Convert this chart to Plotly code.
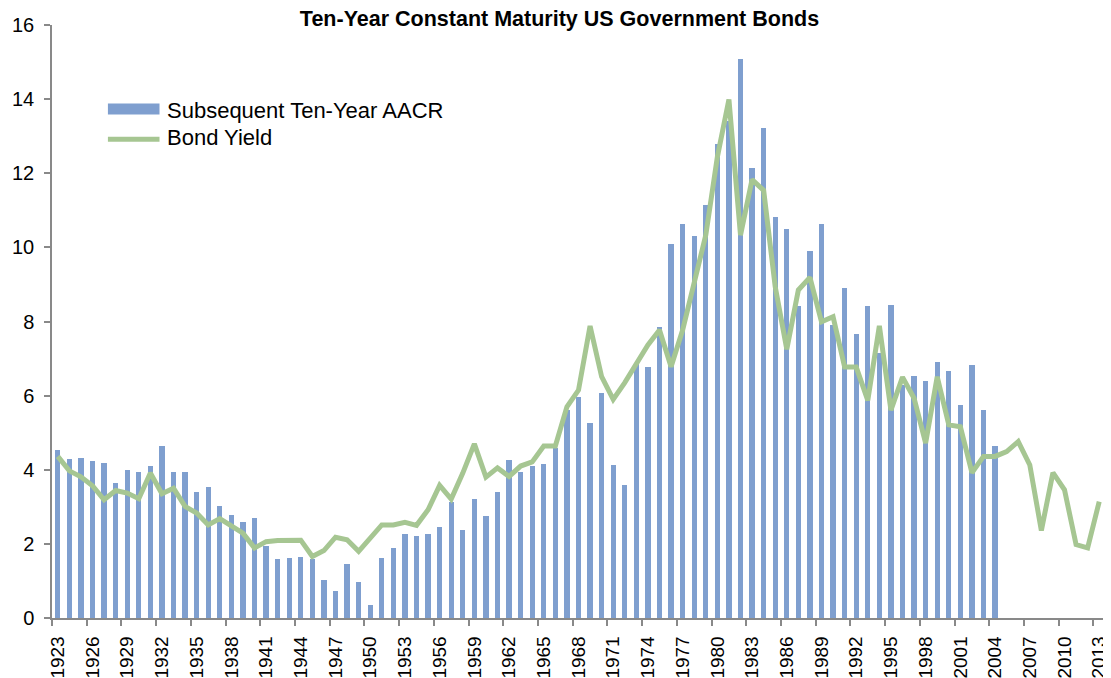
import plotly.graph_objects as go

years = list(range(1923, 2014))
aacr_years = list(range(1923, 2005))

aacr = [4.52, 4.28, 4.33, 4.24, 4.19, 3.64, 3.99, 3.94, 4.09, 4.64,
        3.93, 3.94, 3.39, 3.54, 3.03, 2.77, 2.60, 2.69, 1.93, 1.60,
        1.62, 1.65, 1.60, 1.03, 0.73, 1.45, 0.96, 0.36, 1.62, 1.89,
        2.27, 2.22, 2.27, 2.46, 3.14, 2.38, 3.22, 2.74, 3.39, 4.27,
        3.93, 4.10, 4.15, 4.58, 5.61, 5.97, 5.26, 6.08, 4.13, 3.59,
        6.85, 6.77, 7.84, 10.08, 10.63, 10.31, 11.15, 12.78, 13.40, 15.09,
        12.15, 13.22, 10.81, 10.50, 8.42, 9.90, 10.63, 7.90, 8.91, 7.65,
        8.41, 7.14, 8.45, 6.30, 6.53, 6.39, 6.91, 6.67, 5.74, 6.82,
        5.61, 4.63]

bond_yield = [4.36, 3.97, 3.81, 3.57, 3.19, 3.44, 3.37, 3.22, 3.91, 3.35,
              3.50, 3.01, 2.83, 2.51, 2.68, 2.47, 2.29, 1.89, 2.06, 2.09,
              2.10, 2.10, 1.66, 1.82, 2.18, 2.11, 1.80, 2.16, 2.51, 2.51,
              2.58, 2.50, 2.92, 3.58, 3.21, 3.91, 4.70, 3.80, 4.05, 3.82,
              4.10, 4.21, 4.64, 4.64, 5.70, 6.15, 7.88, 6.51, 5.90, 6.35,
              6.83, 7.37, 7.77, 6.78, 7.77, 9.03, 10.33, 12.44, 13.99, 10.33,
              11.83, 11.54, 8.94, 7.25, 8.85, 9.19, 7.99, 8.13, 6.77, 6.77,
              5.87, 7.88, 5.61, 6.50, 5.93, 4.72, 6.51, 5.21, 5.16, 3.92,
              4.36, 4.36, 4.49, 4.76, 4.13, 2.36, 3.92, 3.46, 1.98, 1.89,
              3.14]

tick_years = list(range(1923, 2014, 3))
tick_labels = [str(y) for y in tick_years]
y_ticks = list(range(0, 17, 2))

BAR_COLOR = "#7F9FCF"
LINE_COLOR = "#A6C692"
AXIS_COLOR = "#898989"
FONT = "Liberation Sans, Arial, sans-serif"

# The page body adds an 8px margin, so the figure is sized to fit the window.
W, H = 1103, 670

fig = go.Figure()
fig.add_trace(go.Bar(x=aacr_years, y=aacr, name="Subsequent Ten-Year AACR",
                     marker=dict(color=BAR_COLOR, line=dict(width=0)), width=0.45))
fig.add_trace(go.Scatter(x=years, y=bond_yield, name="Bond Yield", mode="lines",
                         line=dict(color=LINE_COLOR, width=5, shape="linear")))

fig.update_layout(
    width=W, height=H,
    margin=dict(l=44, r=5.5, t=16.7, b=59.7, autoexpand=False),
    paper_bgcolor="white", plot_bgcolor="white",
    showlegend=False,
    font=dict(family=FONT, color="black"),
    title=dict(text="<b>Ten-Year Constant Maturity US Government Bonds</b>",
               x=551.5 / W, xanchor="center", xref="container",
               y=1 - 10 / H, yanchor="middle", yref="container",
               font=dict(size=21.5, family=FONT, color="black")),
    bargap=0,
)

fig.update_xaxes(
    range=[1922.5, 2013.5], showgrid=False, zeroline=False, automargin=False,
    showline=True, linecolor=AXIS_COLOR, linewidth=1.5,
    tickmode="array", tickvals=tick_years, ticktext=tick_labels,
    tickangle=-90, ticks="", ticklabelstandoff=9,
    tickfont=dict(size=19, family=FONT, color="black"),
    minor=dict(ticks="outside", tick0=1922.5, dtick=3, ticklen=6,
               tickcolor=AXIS_COLOR, tickwidth=1.5, showgrid=False),
)
fig.update_yaxes(
    range=[0, 16], tickmode="array", tickvals=y_ticks,
    showgrid=False, zeroline=False, automargin=False,
    showline=True, linecolor=AXIS_COLOR, linewidth=1.5,
    ticks="outside", ticklen=6, tickcolor=AXIS_COLOR, tickwidth=1.5,
    ticklabelstandoff=6,
    tickfont=dict(size=20, family=FONT, color="black"),
)

# Legend drawn to match the wide swatches of the original
fig.add_shape(type="rect", xref="paper", yref="paper",
              x0=0.0531, x1=0.1021, y0=0.849, y1=0.8676,
              fillcolor=BAR_COLOR, line=dict(width=0))
fig.add_shape(type="line", xref="paper", yref="paper",
              x0=0.0531, x1=0.1021, y0=0.8075, y1=0.8075,
              line=dict(color=LINE_COLOR, width=5))
fig.add_annotation(xref="paper", yref="paper", x=0.1075, y=0.8563,
                   xanchor="left", yanchor="middle", showarrow=False,
                   text="Subsequent Ten-Year AACR",
                   font=dict(size=22, family=FONT, color="black"))
fig.add_annotation(xref="paper", yref="paper", x=0.1075, y=0.8096,
                   xanchor="left", yanchor="middle", showarrow=False,
                   text="Bond Yield",
                   font=dict(size=22, family=FONT, color="black"))

fig.write_html("out.html")
